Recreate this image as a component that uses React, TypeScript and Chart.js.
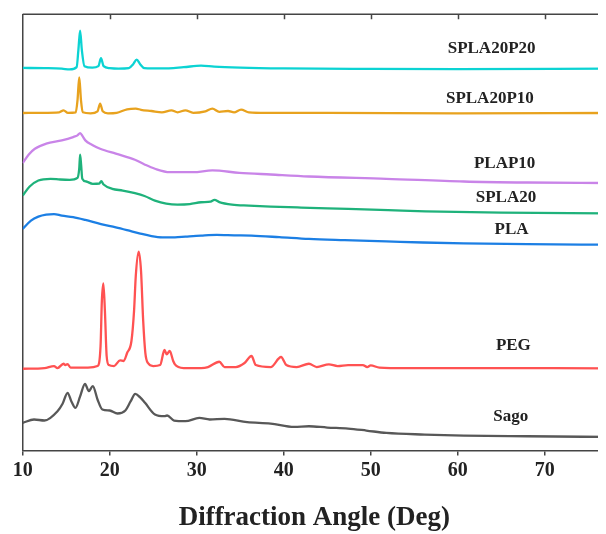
import React, { useEffect, useRef } from 'react';
import { Chart, registerables } from 'chart.js';

Chart.register(...registerables);

// ---- axis ----
const xTickValues = [10, 20, 30, 40, 50, 60, 70];
const xMin = 10;
const xMax = 77.05;
const yMin = 0;
const yMax = 435;
const xTitle = 'Diffraction Angle (Deg)';

// ---- series (2θ in degrees, intensity in a.u. incl. vertical offset) ----
const sagoAngles = [10, 11.3, 12.5, 14.0, 14.6, 15.16, 15.6, 16.06, 16.6, 17.16, 17.6, 18.06, 18.6, 19.16, 20.0, 20.9, 21.8, 22.4, 22.94, 23.5, 24.06, 25.2, 26.3, 26.6, 27.4, 28.7, 30.3, 31.5, 33.2, 35.8, 38.5, 41.2, 42.9, 45, 47.4, 49.5, 51.8, 56.2, 60.7, 68, 77.05];
const sagoCounts = [27.6, 31, 30, 39.3, 47, 57.6, 49, 42.6, 54, 66.6, 59.3, 64.3, 51, 41, 40, 37, 40, 49, 56.6, 53, 47.6, 36, 34.3, 35, 30, 29.3, 32.6, 31, 31.6, 28.3, 27, 23.6, 24.3, 23, 22, 20, 17.6, 16, 15, 14.3, 13.6];

const pegAngles = [10, 12.5, 13.6, 14.0, 14.7, 14.9, 15.15, 15.5, 17.5, 18.6, 18.95, 19.1, 19.27, 19.45, 19.65, 19.9, 20.5, 21.2, 21.6, 22.0, 22.5, 22.8, 23.0, 23.33, 23.6, 23.85, 24.1, 24.4, 25.0, 25.8, 26.3, 26.55, 26.9, 27.3, 27.5, 27.9, 28.5, 30.5, 31.3, 32.6, 33.2, 34.5, 35.5, 36.3, 36.8, 38.5, 39.7, 40.3, 41.5, 42.9, 43.8, 45.2, 46.2, 47.4, 49.1, 49.6, 50.0, 51, 54, 60, 77.05];
const pegCounts = [81.6, 82.3, 84.3, 82.3, 86.6, 85.3, 86.3, 82.8, 82.8, 84.3, 104.3, 149.3, 166.6, 139.3, 94.3, 85.3, 84.3, 90, 89.3, 97.3, 109.3, 139.3, 174.3, 198.3, 179.3, 129.3, 97.3, 87.3, 84.3, 85.3, 100.3, 96, 99.3, 89.3, 86, 83.3, 82.3, 82.3, 83.3, 88.6, 83.3, 83.3, 87.3, 94.3, 85.3, 83.3, 93.3, 85.3, 83.3, 86.6, 83.3, 86, 84.3, 85.3, 85.3, 83.3, 85, 82.8, 82.3, 82.3, 82];

const plaAngles = [10, 10.95, 11.8, 12.7, 13.6, 14.5, 15.8, 17.2, 19.0, 20.7, 22.0, 23.4, 24.8, 26.06, 27.5, 28.7, 30.5, 32.3, 34.3, 36.3, 39.5, 42.9, 47.0, 51.8, 56, 60.7, 68, 77.05];
const plaCounts = [221, 229.3, 233.3, 235.3, 235.8, 234.3, 232.8, 230, 225.8, 222.6, 219.8, 216.6, 213.8, 212.6, 212.6, 213.3, 214.3, 215, 214.6, 214.3, 212.8, 211, 209.8, 208.6, 207.5, 206.6, 205.8, 205.3];

const spla20Angles = [10, 10.8, 11.8, 13.2, 14.3, 15.4, 16.3, 16.5, 16.6, 16.72, 16.85, 17.3, 18.05, 18.8, 19.03, 19.3, 20.3, 21.5, 22.9, 24.0, 25.2, 26.5, 27.8, 29.2, 30.5, 31.6, 32.05, 32.6, 34.06, 36.0, 38.5, 42.0, 47.4, 52, 56.3, 65, 77.05];
const spla20Counts = [254.3, 263.3, 269.3, 271, 270.3, 270, 272, 281.3, 295, 284.3, 271, 268.3, 266, 266.3, 268.6, 265.3, 261, 259.3, 256.6, 253.8, 249.3, 246.3, 245.3, 245.8, 247.6, 248.3, 250, 247.8, 245.3, 244.3, 243.3, 242.3, 241, 239.8, 238.6, 237.3, 236.6];

const plap10Angles = [10, 10.7, 11.4, 12.7, 14.5, 15.8, 16.3, 16.6, 16.9, 17.2, 18.0, 18.9, 20.7, 22.9, 24.0, 25.2, 26.9, 29.6, 31.8, 34.9, 38.5, 42.9, 51.8, 60.7, 68, 77.05];
const plap10Counts = [286.6, 295.3, 301, 306, 309.3, 312.6, 314.3, 316.6, 313.3, 309.3, 304.8, 301, 296, 290, 285.3, 281, 277.6, 277.6, 279.3, 277, 275.3, 273.3, 271, 268.3, 267.3, 266.8];

const spla20p10Angles = [10, 12, 14.2, 14.7, 15.2, 16.1, 16.3, 16.5, 16.7, 16.9, 17.8, 18.6, 18.9, 19.2, 19.8, 20.8, 22.0, 23.0, 23.6, 24.8, 26.0, 27.1, 27.8, 28.7, 29.6, 31.0, 31.8, 32.6, 33.6, 34.3, 35.1, 36.0, 38, 45, 60, 77.05];
const spla20p10Counts = [336.6, 336.8, 337.3, 339.3, 336.8, 337.3, 349.3, 372, 349.3, 337.3, 336.3, 338.3, 346, 338.3, 336.3, 336.8, 340.3, 341, 339.8, 338.6, 337.3, 339.3, 337.3, 339.3, 336.8, 338.3, 341, 337.8, 338.6, 337.3, 340, 337.3, 336.8, 336.8, 336.3, 336.6];

const spla20p20Angles = [10, 12.5, 14.5, 15.4, 16.2, 16.4, 16.6, 16.8, 17.1, 18.0, 18.7, 19.0, 19.3, 20.0, 21.0, 22.2, 22.7, 23.1, 23.5, 24.0, 26, 28.5, 30.5, 32, 35, 40, 50, 60, 77.05];
const spla20p20Counts = [381.5, 381.3, 380.8, 380, 382.3, 399.3, 418.6, 399.3, 383.3, 381.8, 383.3, 391.3, 383.3, 381.3, 380.8, 381.3, 385.3, 389.8, 385.3, 381.3, 381, 382.3, 383.8, 382.8, 381.8, 381, 380.5, 380.3, 380.8];

const seriesNames = ['Sago', 'PEG', 'PLA', 'SPLA20', 'PLAP10', 'SPLA20P10', 'SPLA20P20'];
const seriesAngles = [sagoAngles, pegAngles, plaAngles, spla20Angles, plap10Angles, spla20p10Angles, spla20p20Angles];
const seriesCounts = [sagoCounts, pegCounts, plaCounts, spla20Counts, plap10Counts, spla20p10Counts, spla20p20Counts];
const seriesColors = ['#585858', '#FF5252', '#1C7FE4', '#1FB27B', '#C984E8', '#E8A21E', '#0CD3D3'];

// ---- curve labels (angle, intensity) ----
const labelAngles = [66.1, 66.4, 66.2, 65.55, 65.4, 63.7, 63.9];
const labelLevels = [34.3, 105, 220, 252.6, 286, 351, 401];

const SERIF = '"Liberation Serif", "Times New Roman", serif';

const framePlugin = {
  id: 'frameAndLabels',
  afterDraw(chart: any) {
    const { ctx, chartArea, scales } = chart;
    const xs = scales.x;
    const ys = scales.y;
    ctx.save();
    // top frame with inward ticks
    ctx.strokeStyle = '#444';
    ctx.lineWidth = 1.5;
    ctx.beginPath();
    ctx.moveTo(chartArea.left, chartArea.top);
    ctx.lineTo(chartArea.right, chartArea.top);
    ctx.stroke();
    ctx.beginPath();
    xTickValues.forEach((v) => {
      if (v === xMin) return;
      const px = Math.round(xs.getPixelForValue(v)) + 0.5;
      ctx.moveTo(px, chartArea.top);
      ctx.lineTo(px, chartArea.top + 5);
    });
    ctx.stroke();
    // series labels
    ctx.fillStyle = '#222';
    ctx.font = `bold 17px ${SERIF}`;
    ctx.textAlign = 'center';
    ctx.textBaseline = 'middle';
    seriesNames.forEach((name, i) => {
      ctx.fillText(name, xs.getPixelForValue(labelAngles[i]), ys.getPixelForValue(labelLevels[i]));
    });
    ctx.restore();
  },
};

export default function App() {
  const ref = useRef<HTMLCanvasElement | null>(null);
  useEffect(() => {
    document.documentElement.style.overflow = 'hidden';
    document.body.style.overflow = 'hidden';
    const canvas = ref.current!;
    const chart = new Chart(canvas, {
      type: 'line',
      data: {
        datasets: seriesNames.map((name, i) => ({
          label: name,
          data: seriesAngles[i].map((a, j) => ({ x: a, y: seriesCounts[i][j] })),
          borderColor: seriesColors[i],
          borderWidth: 2.3,
          pointRadius: 0,
          fill: false,
          cubicInterpolationMode: 'monotone' as const,
        })),
      },
      options: {
        animation: false,
        responsive: false,
        maintainAspectRatio: false,
        layout: { padding: { left: 14.7, top: 6.3, right: 0, bottom: 0 } },
        plugins: { legend: { display: false }, tooltip: { enabled: false } },
        scales: {
          x: {
            type: 'linear',
            min: xMin,
            max: xMax,
            afterBuildTicks: (axis: any) => {
              axis.ticks = xTickValues.map((v) => ({ value: v }));
            },
            border: { display: true, color: '#444', width: 1.5 },
            grid: { display: true, drawOnChartArea: false, drawTicks: true, tickLength: 5, color: '#444', lineWidth: 1.5 },
            ticks: {
              autoSkip: false,
              maxRotation: 0,
              padding: 3,
              color: '#222',
              font: { family: SERIF, size: 20, weight: 'bold' },
            },
            title: {
              display: true,
              text: xTitle,
              color: '#222',
              font: { family: SERIF, size: 27, weight: 'bold' },
              padding: { top: 16, bottom: 1 },
            },
          },
          y: {
            type: 'linear',
            min: yMin,
            max: yMax,
            border: { display: true, color: '#444', width: 1.5 },
            grid: { display: false, drawTicks: false },
            ticks: { display: false },
          },
        },
      } as any,
      plugins: [framePlugin],
    });
    return () => chart.destroy();
  }, []);
  return (
    <canvas ref={ref} width={598} height={527} style={{ display: 'block', width: 598, height: 527 }} />
  );
}
